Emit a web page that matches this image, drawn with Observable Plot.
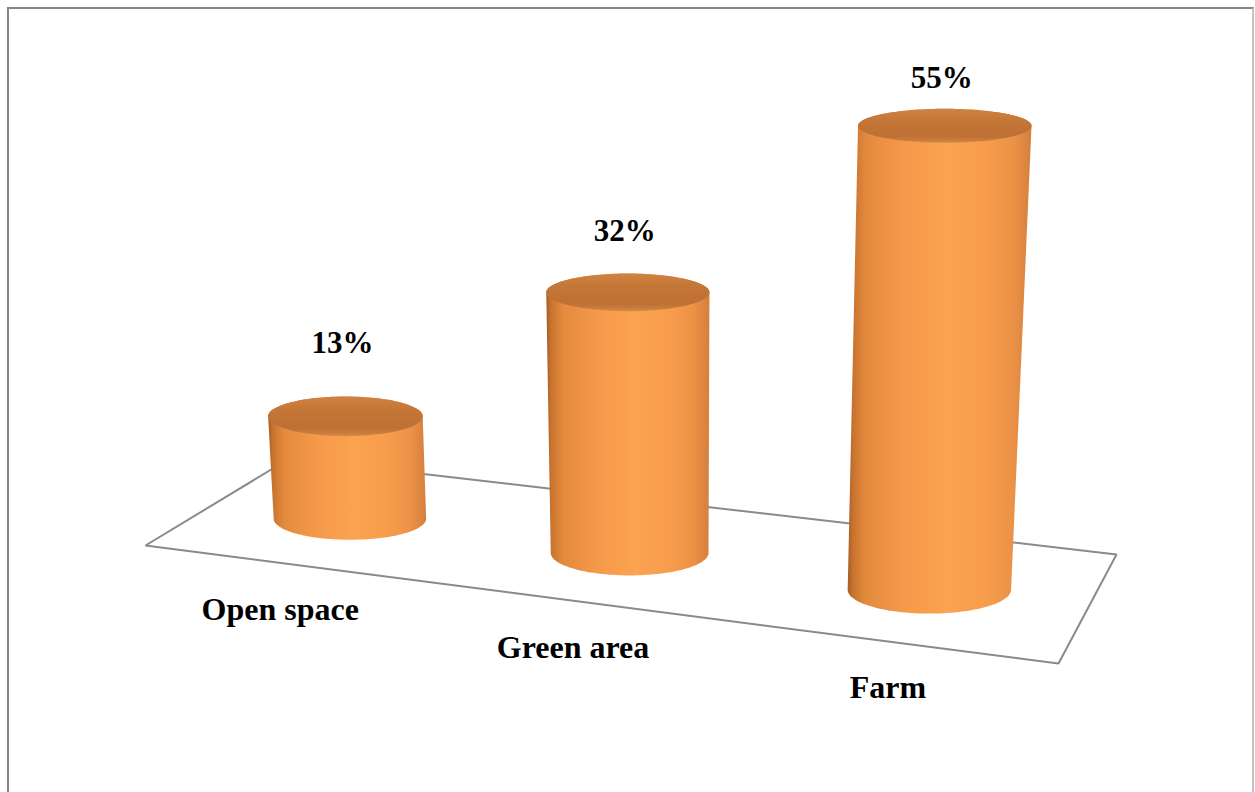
<!DOCTYPE html>
<html>
<head>
<meta charset="utf-8">
<script src="https://cdn.jsdelivr.net/npm/d3@7"></script>
<script src="https://cdn.jsdelivr.net/npm/@observablehq/plot@0.6"></script>
<style>
  html, body { margin: 0; padding: 0; background: #ffffff; }
  #wrap { position: relative; width: 1255px; height: 792px; overflow: hidden; background: #fff; }
  #frame { position: absolute; left: 7px; top: 7px; width: 1243px; height: 900px;
           border-left: 2px solid #858585; border-top: 2px solid #858585; border-right: 2px solid #c4c4c4; }
  #chart { position: absolute; left: 0; top: 0; }
</style>
</head>
<body>
<div id="wrap"><div id="frame"></div><div id="chart"></div></div>
<script>
// ---------------- data ----------------
const categories = ["Open space", "Green area", "Farm"];
const shares = [13, 32, 55]; // percent

// ---------------- layout (camera of the pseudo-3D scene) ----------------
const W = 1255, H = 792;
// floor quadrilateral in scene units: back-left, back-right, front-right, front-left
const floorBack = [[289, 458], [1116, 554]];
const floorFront = [[1058, 663], [145, 545]];
const barDepth = 0.53;          // bars sit at this depth on the floor (0 = back, 1 = front)
const unitsPerPct = 7.33;       // height units per percent at unit perspective scale
const barRadius = 71;           // radius at unit perspective scale
const vanishX = 680, vanishDist = 7500; // vertical convergence
const ellipseRatio = y => 0.170 + 0.000208 * y; // flattening of horizontal circles
const labelGap = v => 80.8 - 0.61 * v;
const catLabelDrop = 46;

// homography from unit square (u along categories, v depth) to scene
const [x0, y0] = floorBack[0], [x1, y1] = floorBack[1], [x2, y2] = floorFront[0], [x3, y3] = floorFront[1];
const dx1 = x1 - x2, dx2 = x3 - x2, dx3 = x0 - x1 + x2 - x3;
const dy1 = y1 - y2, dy2 = y3 - y2, dy3 = y0 - y1 + y2 - y3;
const det = dx1 * dy2 - dx2 * dy1;
const hg = (dx3 * dy2 - dx2 * dy3) / det;
const hh = (dx1 * dy3 - dx3 * dy1) / det;
const ha = x1 - x0 + hg * x1, hb = x3 - x0 + hh * x3, hc = x0;
const hd = y1 - y0 + hg * y1, he = y3 - y0 + hh * y3, hf = y0;
function floor(u, v) {
  const w = hg * u + hh * v + 1;
  return {x: (ha * u + hb * v + hc) / w, y: (hd * u + he * v + hf) / w, s: 1 / w};
}

// ---------------- derived geometry ----------------
const n = categories.length;
const bars = categories.map((cat, i) => {
  const u = (i + 0.5) / n;
  const b = floor(u, barDepth);
  const hpx = shares[i] * unitsPerPct * b.s;
  const rx0 = barRadius * b.s;
  const k = hpx / vanishDist;
  const tx = b.x + (b.x - vanishX) * k;
  const ty = b.y - hpx;
  const rx1 = rx0 * (1 + k);
  return {cat, value: shares[i], u, bx: b.x, by: b.y, rx0, ry0: rx0 * ellipseRatio(b.y), tx, ty, rx1, ry1: rx1 * ellipseRatio(ty)};
});

const N = 72;
const bodyPts = [], capPts = [];
for (const b of bars) {
  for (let j = 0; j <= N; j++) {           // front half of the base, left -> right
    const t = Math.PI - (Math.PI * j) / N;
    bodyPts.push({cat: b.cat, x: b.bx + b.rx0 * Math.cos(t), y: b.by + b.ry0 * Math.sin(t)});
  }
  for (let j = 0; j <= N; j++) {           // back half of the top, right -> left
    const t = -(Math.PI * j) / N;
    bodyPts.push({cat: b.cat, x: b.tx + b.rx1 * Math.cos(t), y: b.ty + b.ry1 * Math.sin(t)});
  }
  for (let j = 0; j <= 2 * N; j++) {
    const t = (Math.PI * j) / N;
    capPts.push({cat: b.cat, x: b.tx + b.rx1 * Math.cos(t), y: b.ty + b.ry1 * Math.sin(t)});
  }
}

const floorPts = [[0, 0], [1, 0], [1, 1], [0, 1], [0, 0]].map(([u, v]) => floor(u, v));
const valueLabels = bars.map(b => ({text: `${b.value}%`, x: b.tx, y: b.ty - labelGap(b.value)}));
const catLabels = bars.map(b => { const p = floor(b.u, 1); return {text: b.cat, x: p.x, y: p.y}; });

const font = "'Liberation Serif', 'Times New Roman', serif";

const svg = Plot.plot({
  width: W, height: H,
  margin: 0,
  x: {type: "linear", domain: [0, W], range: [0, W], axis: null},
  y: {type: "linear", domain: [0, H], range: [0, H], axis: null},
  style: {background: "transparent", overflow: "visible"},
  marks: [
    Plot.line(floorPts, {x: "x", y: "y", stroke: "#8a8a8a", strokeWidth: 2, strokeLinejoin: "miter"}),
    Plot.line(bodyPts, {x: "x", y: "y", z: "cat", fill: "url(#bodyGrad)", stroke: "none"}),
    Plot.line(capPts, {x: "x", y: "y", z: "cat", fill: "url(#capGrad)", stroke: "none"}),
    Plot.text(valueLabels, {x: "x", y: "y", text: "text", dx: -3, fontFamily: font, fontWeight: "bold", fontSize: 31, fill: "#000", textAnchor: "middle"}),
    Plot.text(catLabels, {x: "x", y: "y", text: "text", dx: -4, dy: catLabelDrop, fontFamily: font, fontWeight: "bold", fontSize: 32, fill: "#000", textAnchor: "middle"})
  ]
});

const defs = d3.select(svg).insert("defs", ":first-child");
const bodyGrad = defs.append("linearGradient").attr("id", "bodyGrad").attr("x1", 0).attr("x2", 1).attr("y1", 0).attr("y2", 0);
[[0, "#a65d26"], [0.03, "#c8732f"], [0.1, "#e48a3d"], [0.3, "#f4994a"], [0.55, "#fba350"], [0.75, "#f79d4c"], [0.9, "#ec9247"], [1, "#d47f3c"]]
  .forEach(([o, c]) => bodyGrad.append("stop").attr("offset", o).attr("stop-color", c));
const capGrad = defs.append("linearGradient").attr("id", "capGrad").attr("x1", 0).attr("x2", 0).attr("y1", 0).attr("y2", 1);
[[0, "#cf8242"], [0.35, "#c47637"], [0.8, "#be7035"], [0.92, "#c97c3c"], [1, "#d68b48"]]
  .forEach(([o, c]) => capGrad.append("stop").attr("offset", o).attr("stop-color", c));

document.getElementById("chart").appendChild(svg);
</script>
</body>
</html>
